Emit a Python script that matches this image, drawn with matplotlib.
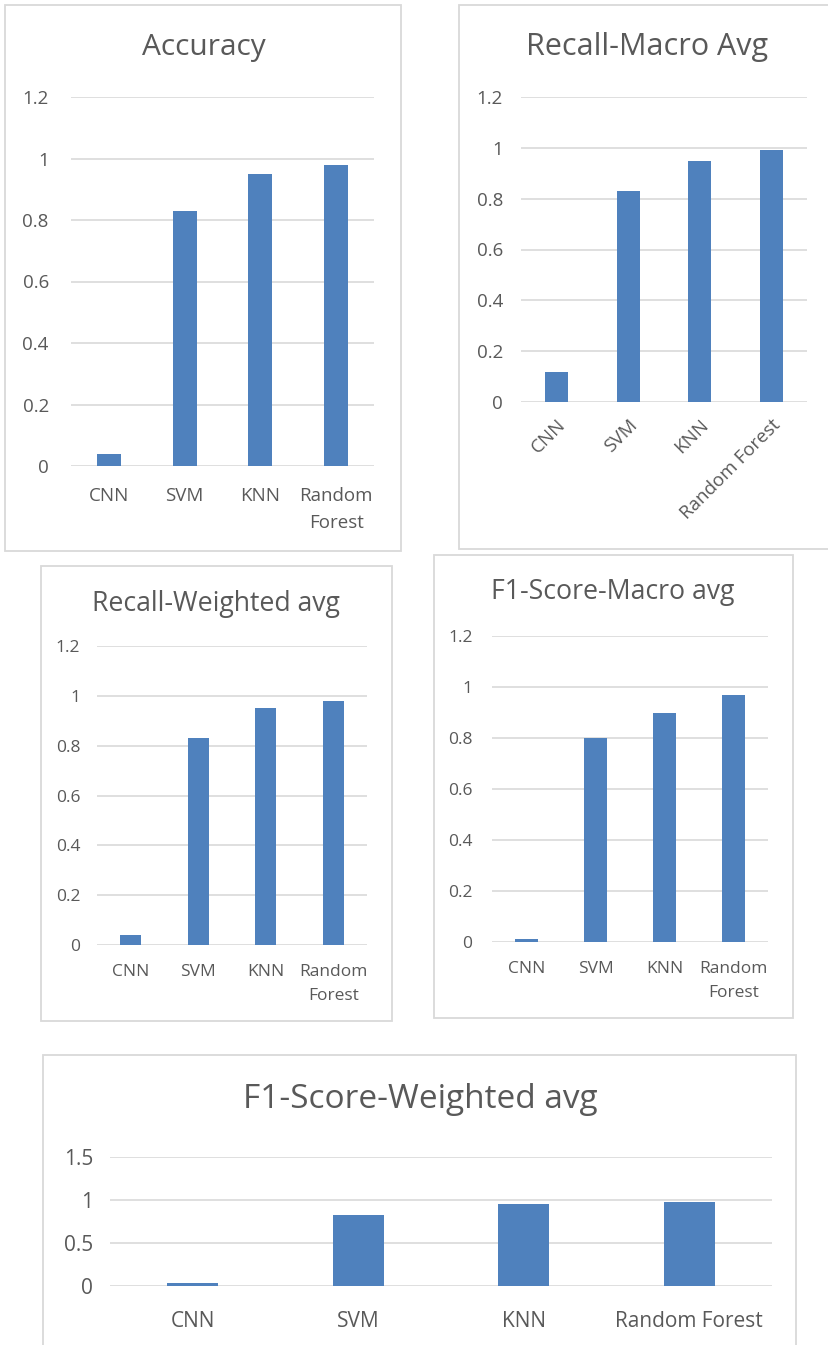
import matplotlib
matplotlib.use("Agg")
import matplotlib.pyplot as plt
from matplotlib.patches import Rectangle
import numpy as np

plt.rcParams['font.family'] = ['Open Sans', 'DejaVu Sans']

W, H = 829, 1345

models = ["CNN", "SVM", "KNN", "Random Forest"]
models_wrapped = ["CNN", "SVM", "KNN", "Random\nForest"]

accuracy = [0.04, 0.83, 0.95, 0.98]
recall_macro = [0.12, 0.83, 0.95, 0.99]
recall_weighted = [0.04, 0.83, 0.95, 0.98]
f1_macro = [0.01, 0.80, 0.90, 0.97]
f1_weighted = [0.04, 0.83, 0.95, 0.98]

ticks_small = [0, 0.2, 0.4, 0.6, 0.8, 1, 1.2]
ticks_wide = [0, 0.5, 1, 1.5]

BAR = "#4f81bd"
GRID = "#d9d9d9"
TXT = "#595959"
BOX = "#d9d9d9"

fig = plt.figure(figsize=(W / 100, H / 100), dpi=100)
fig.patch.set_facecolor("white")


def box(l, t, r, b):
    fig.patches.append(Rectangle((l / W, 1 - b / H), (r - l) / W, (b - t) / H,
                                 transform=fig.transFigure, fill=False,
                                 edgecolor=BOX, linewidth=1.3, zorder=0))


def chart(frame, plot, title, title_xy, title_size, values, labels, ticks,
          ylabels, rot=0, tick_size=10, xpad=15, ypad=14, bar_w=0.32, lsp=1.6):
    box(*frame)
    l, t, r, b = plot
    ax = fig.add_axes([l / W, 1 - b / H, (r - l) / W, (b - t) / H])
    x = np.arange(len(values))
    ax.bar(x, values, width=bar_w, color=BAR, zorder=3)
    ax.set_xlim(-0.5, len(values) - 0.5)
    ax.set_ylim(0, ticks[-1])
    ax.set_yticks(ticks)
    ax.set_yticklabels(ylabels)
    ax.set_xticks(x)
    if rot:
        ax.set_xticklabels(labels, rotation=rot, ha="right", va="top",
                           rotation_mode="anchor")
    else:
        ax.set_xticklabels(labels, linespacing=lsp)
    for s in ax.spines.values():
        s.set_visible(False)
    ax.grid(axis="y", color=GRID, linewidth=1.2, zorder=0)
    ax.tick_params(length=0, colors=TXT, labelsize=tick_size)
    ax.tick_params(axis="x", pad=xpad)
    ax.tick_params(axis="y", pad=ypad)
    ax.set_facecolor("none")
    fig.text(title_xy[0] / W, 1 - title_xy[1] / H, title, ha="center",
             va="center", fontsize=title_size, color=TXT)
    return ax


small_labels = ["0", "0.2", "0.4", "0.6", "0.8", "1", "1.2"]

chart((5, 5, 401, 551), (71, 97, 374, 466), "Accuracy", (204, 47), 21.5,
      accuracy, models_wrapped, ticks_small, small_labels,
      tick_size=13.5, xpad=15, ypad=16, lsp=1.65)

chart((459, 5, 829, 549), (521, 97, 807, 402), "Recall-Macro Avg", (647, 47), 22,
      recall_macro, models, ticks_small, small_labels, rot=45,
      tick_size=13.5, xpad=10, ypad=13)

chart((41, 566, 392, 1021), (97, 646, 367, 945), "Recall-Weighted avg", (216, 604), 19.2,
      recall_weighted, models_wrapped, ticks_small, small_labels,
      tick_size=12.5, xpad=14, ypad=12, bar_w=0.31, lsp=1.6)

chart((434, 555, 793, 1018), (492, 636, 768, 942), "F1-Score-Macro avg", (613, 592), 19.2,
      f1_macro, models_wrapped, ticks_small, small_labels,
      tick_size=12.5, xpad=14, ypad=14, lsp=1.6)

chart((43, 1055, 796, 1360), (110, 1157, 772, 1286), "F1-Score-Weighted avg",
      (420, 1100), 24, f1_weighted, models, ticks_wide, ["0", "0.5", "1", "1.5"],
      tick_size=15, xpad=18, ypad=12, bar_w=0.31)

fig.savefig("out.png", dpi=100, facecolor="white")
